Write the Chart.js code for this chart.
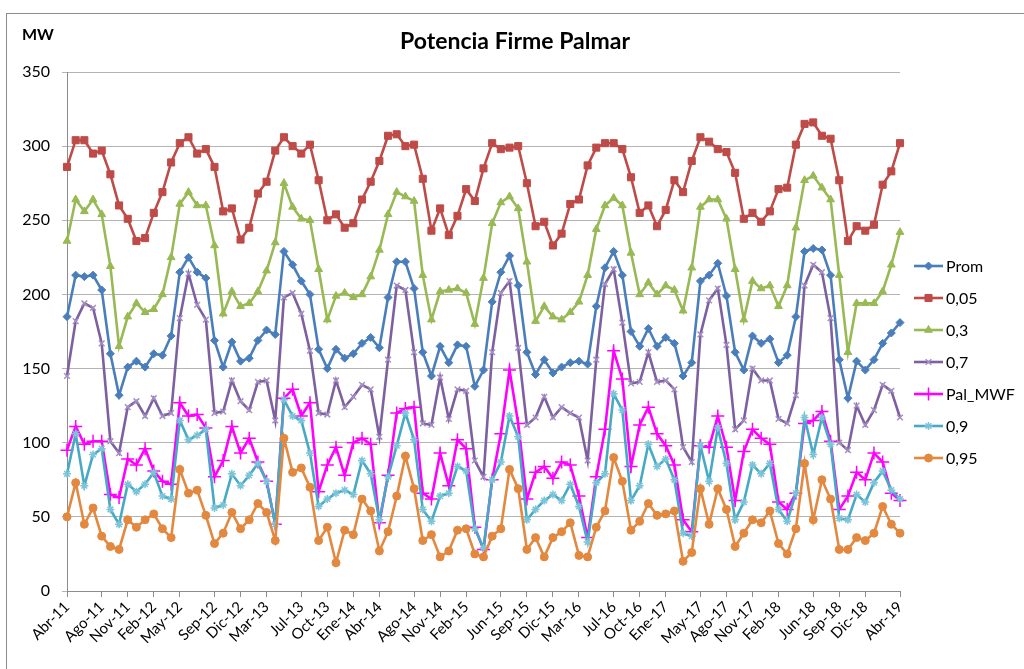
<!DOCTYPE html>
<html>
<head>
<meta charset="utf-8">
<title>Potencia Firme Palmar</title>
<script src="https://cdn.jsdelivr.net/npm/chart.js@4.4.1/dist/chart.umd.min.js"></script>
<style>
    html, body { margin: 0; padding: 0; background: #fff; }
    #wrap { width: 1024px; height: 669px; position: relative; }
</style>
</head>
<body>
<div id="wrap"><canvas id="chart"></canvas></div>
<script>
// Monthly categories, Abr-11 .. Abr-19
const categories = [
    'Abr-11','May-11','Jun-11','Jul-11','Ago-11','Sep-11','Oct-11','Nov-11','Dic-11',
    'Ene-12','Feb-12','Mar-12','Abr-12','May-12','Jun-12','Jul-12','Ago-12','Sep-12','Oct-12','Nov-12','Dic-12',
    'Ene-13','Feb-13','Mar-13','Abr-13','May-13','Jun-13','Jul-13','Ago-13','Sep-13','Oct-13','Nov-13','Dic-13',
    'Ene-14','Feb-14','Mar-14','Abr-14','May-14','Jun-14','Jul-14','Ago-14','Sep-14','Oct-14','Nov-14','Dic-14',
    'Ene-15','Feb-15','Mar-15','Abr-15','May-15','Jun-15','Jul-15','Ago-15','Sep-15','Oct-15','Nov-15','Dic-15',
    'Ene-16','Feb-16','Mar-16','Abr-16','May-16','Jun-16','Jul-16','Ago-16','Sep-16','Oct-16','Nov-16','Dic-16',
    'Ene-17','Feb-17','Mar-17','Abr-17','May-17','Jun-17','Jul-17','Ago-17','Sep-17','Oct-17','Nov-17','Dic-17',
    'Ene-18','Feb-18','Mar-18','Abr-18','May-18','Jun-18','Jul-18','Ago-18','Sep-18','Oct-18','Nov-18','Dic-18',
    'Ene-19','Feb-19','Mar-19','Abr-19'
];

// Labels that are actually shown on the x axis
const tickLabels = [
    'Abr-11','Ago-11','Nov-11','Feb-12','May-12','Sep-12','Dic-12','Mar-13','Jul-13','Oct-13',
    'Ene-14','Abr-14','Ago-14','Nov-14','Feb-15','Jun-15','Sep-15','Dic-15','Mar-16','Jul-16',
    'Oct-16','Ene-17','May-17','Ago-17','Nov-17','Feb-18','Jun-18','Sep-18','Dic-18','Abr-19'
];

const yTicks = [0, 50, 100, 150, 200, 250, 300, 350];

const prom = [
    185,213,212,213,203,160,132,151,155,151,160,159,172,215,225,215,211,169,151,168,155,157,169,176,173,
    229,220,209,200,163,150,163,157,160,167,171,164,198,222,222,204,161,145,165,154,166,165,138,149,
    195,215,226,206,161,146,156,147,151,154,155,153,192,218,229,213,175,165,177,165,171,167,145,154,
    209,213,221,199,161,149,172,167,170,154,159,185,229,231,230,213,156,130,155,149,156,167,174,181
];
const p005 = [
    286,304,304,295,297,281,260,251,236,238,255,269,289,302,306,295,298,286,256,258,237,245,268,276,297,
    306,300,295,301,277,250,254,245,248,264,276,290,307,308,300,301,278,243,258,240,253,271,263,285,
    302,298,299,300,275,246,249,233,241,261,264,287,299,302,302,298,279,255,260,246,257,277,269,290,
    306,303,298,296,282,251,255,249,256,271,272,301,315,316,307,305,277,236,246,243,247,274,283,302
];
const p03 = [
    236,264,256,264,254,219,165,185,194,188,190,200,225,261,269,260,260,233,187,202,192,194,202,216,235,
    275,259,251,250,217,183,199,201,198,200,212,230,254,269,266,263,213,183,202,203,204,201,180,211,
    248,262,266,258,222,182,192,185,183,188,195,213,244,260,265,260,228,200,208,200,206,203,189,218,
    259,264,264,251,217,183,209,204,206,192,206,245,277,280,272,264,213,161,194,194,194,202,220,242
];
const p07 = [
    145,182,194,191,167,101,93,124,128,118,130,118,120,184,214,193,183,120,121,142,128,122,141,142,115,
    198,201,187,162,120,119,142,124,131,139,136,104,156,206,203,161,113,112,144,116,136,135,88,77,
    161,201,209,164,112,117,131,117,124,120,117,88,156,207,217,181,140,141,161,141,142,136,97,87,
    173,196,204,166,109,115,150,142,142,116,113,132,206,220,215,184,100,95,125,112,122,139,135,117
];
const palMwf = [
    95,111,99,101,101,65,63,89,85,96,81,74,72,127,118,119,110,77,88,111,93,103,87,74,45,
    130,136,118,127,67,85,97,78,100,103,99,46,78,120,123,124,66,62,93,71,102,96,43,28,
    75,106,149,113,62,80,84,76,87,85,64,36,77,109,162,143,84,112,124,106,98,85,48,40,
    98,97,118,97,61,94,109,103,99,60,55,66,113,115,121,101,55,64,80,75,93,87,66,61
];
const p09 = [
    79,106,71,92,96,55,45,72,67,72,80,64,62,115,102,105,109,56,58,79,71,78,86,74,45,
    129,118,115,93,57,62,66,68,65,88,79,48,77,98,120,102,55,47,64,66,84,81,42,29,
    75,87,118,104,48,55,61,65,61,72,57,33,73,79,133,122,61,71,99,84,89,75,39,37,
    98,74,110,86,48,60,85,79,86,55,47,66,117,92,117,99,49,48,65,60,73,81,68,62
];
const p095 = [
    50,73,45,56,37,30,28,48,43,48,52,42,36,82,66,68,51,32,39,53,42,48,59,53,34,
    103,80,83,70,34,43,19,41,38,62,54,27,40,64,91,69,34,38,23,27,41,42,25,23,
    37,42,82,69,28,36,23,36,40,46,24,23,43,54,90,74,41,47,59,51,52,54,20,26,
    69,45,69,55,30,39,48,46,54,32,25,42,86,48,75,62,28,28,36,34,39,57,45,39
];

const FONT = 'Lato, "Liberation Sans", sans-serif';
Chart.defaults.font.family = FONT;
Chart.defaults.color = '#000';

const seriesDefs = [
    { label: 'Prom',    data: prom,   color: '#4A7EBB', point: 'rectRot',  radius: 4, fill: true },
    { label: '0,05',    data: p005,   color: '#BE4B48', point: 'rect',     radius: 5, fill: true },
    { label: '0,3',     data: p03,    color: '#98B954', point: 'triangle', radius: 4.5, fill: true },
    { label: '0,7',     data: p07,    color: '#7D60A0', point: 'crossRot', radius: 4, fill: false, markColor: '#A58FC4' },
    { label: 'Pal_MWF', data: palMwf, color: '#FF00FF', point: 'cross',    radius: 6.5, fill: false },
    { label: '0,9',     data: p09,    color: '#46AAC5', point: 'star',     radius: 4, fill: false, markColor: '#7CC4D8' },
    { label: '0,95',    data: p095,   color: '#E3883F', point: 'circle',   radius: 4, fill: true }
];

const datasets = seriesDefs.map((s, i) => ({
    label: s.label,
    data: s.data,
    borderColor: s.color,
    backgroundColor: s.color,
    borderWidth: 2.6,
    tension: 0,
    pointStyle: s.point,
    pointRadius: s.radius,
    pointBackgroundColor: s.color,
    pointBorderColor: s.markColor || s.color,
    pointBorderWidth: s.fill ? 1 : 1.5,
    order: seriesDefs.length - i
}));

const shownTicks = new Set(tickLabels);

/**
 * Frame, title, "MW" unit label and Excel-style legend (line + marker)
 */
const decorPlugin = {
    id: 'decor',
    beforeDraw(chart) {
        const ctx = chart.ctx;
        ctx.save();
        ctx.strokeStyle = '#8c8c8c';
        ctx.lineWidth = 1;
        ctx.strokeRect(6.5, 13.5, 1040, 700);
        ctx.restore();
    },
    afterDraw(chart) {
        const ctx = chart.ctx;
        ctx.save();
        ctx.fillStyle = '#000';
        ctx.textBaseline = 'middle';

        ctx.font = 'bold 23px ' + FONT;
        ctx.textAlign = 'center';
        ctx.fillText('Potencia Firme Palmar', 515, 42);

        ctx.textAlign = 'left';
        ctx.font = 'bold 16px ' + FONT;
        ctx.fillText('MW', 22, 35);

        ctx.font = '16px ' + FONT;
        seriesDefs.forEach((s, i) => {
            const y = 266 + i * 32;
            ctx.strokeStyle = s.color;
            ctx.lineWidth = 2.6;
            ctx.beginPath();
            ctx.moveTo(914, y);
            ctx.lineTo(943, y);
            ctx.stroke();
            ctx.fillStyle = s.color;
            ctx.strokeStyle = s.markColor || s.color;
            ctx.lineWidth = s.fill ? 1 : 1.5;
            Chart.helpers.drawPoint(ctx, { pointStyle: s.point, radius: s.radius, borderWidth: ctx.lineWidth }, 928.5, y);
            ctx.fillStyle = '#000';
            ctx.fillText(s.label, 946, y + 1);
        });
        ctx.restore();
    }
};

new Chart(document.getElementById('chart'), {
    type: 'line',
    data: { labels: categories, datasets: datasets },
    options: {
        responsive: true,
        maintainAspectRatio: false,
        animation: false,
        events: [],
        layout: { padding: { left: 0, right: 124, top: 72, bottom: 0 } },
        scales: {
            x: {
                type: 'category',
                offset: false,
                grid: { offset: false, drawOnChartArea: false, drawTicks: true, tickLength: 6, color: '#8c8c8c' },
                border: { color: '#8c8c8c' },
                ticks: { autoSkip: false, minRotation: 45, maxRotation: 45, padding: 1, font: { size: 15 }, color: '#000' },
                afterBuildTicks: scale => {
                    scale.ticks = scale.ticks.filter(t => shownTicks.has(categories[t.value]));
                },
                afterFit: scale => { scale.height = 78; }
            },
            y: {
                min: yTicks[0],
                max: yTicks[yTicks.length - 1],
                afterBuildTicks: scale => {
                    scale.ticks = yTicks.map(v => ({ value: v }));
                },
                grid: { color: '#b4b4b4', tickLength: 5, lineWidth: 1 },
                border: { color: '#8c8c8c' },
                ticks: { padding: 12, font: { size: 16 }, color: '#000' },
                afterFit: scale => { scale.width = 67; }
            }
        },
        plugins: {
            legend: { display: false },
            tooltip: { enabled: false },
            title: { display: false }
        }
    },
    plugins: [decorPlugin]
});
</script>
</body>
</html>
